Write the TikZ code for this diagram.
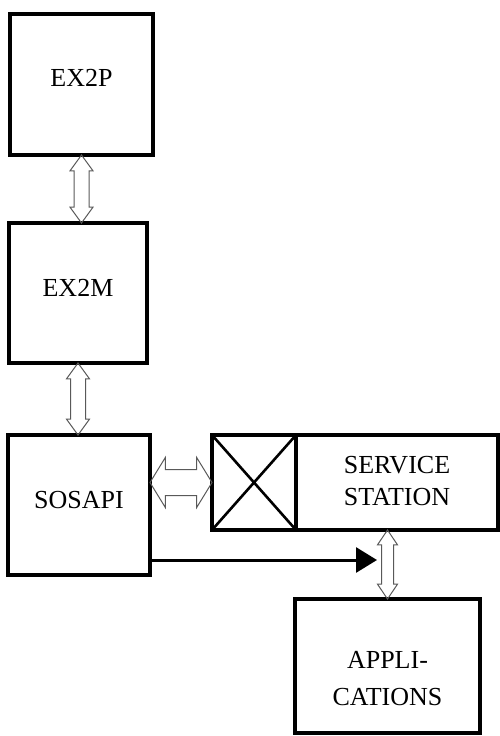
\documentclass[tikz,border=0pt]{standalone}
\usepackage{fontspec}
\setmainfont{Liberation Serif}
\usetikzlibrary{arrows.meta,shapes.arrows,calc}

\newcommand\twoway[3][]{%
  \path let \p1=($(#3)-(#2)$), \n1={veclen(\x1,\y1)} in
    (#2) -- node[twoway, sloped, minimum height=\n1, #1] {} (#3);}

\begin{document}
\begin{tikzpicture}[x=1pt, y=-1pt,
   box/.style={draw, line width=3.2pt, inner sep=0pt, outer sep=0pt},
   lbl/.style={font=\fontsize{26}{32}\selectfont, align=center},
   twoway/.style={double arrow, draw=black!65, line width=1pt, inner xsep=0pt, inner ysep=7pt,
      minimum width=0pt, double arrow head extend=4pt, double arrow tip angle=72}]
   \useasboundingbox (0,0) rectangle (499,736);
   \node[box, minimum width=143, minimum height=141, label={[lbl, yshift=6.5pt]center:EX2P}] (ex2p) at (81.5,84.5) {};
   \node[box, minimum width=138, minimum height=140, label={[lbl, yshift=5pt]center:EX2M}] (ex2m) at (78,293) {};
   \node[box, minimum width=142, minimum height=140, label={[lbl, yshift=5pt]center:SOSAPI}] (sosapi) at (79,505) {};
   \node[box, minimum width=84, minimum height=95] (gate) at (254,482.5) {};
   \node[box, minimum width=202, minimum height=95, anchor=west, label={[lbl, yshift=1.5pt]center:SERVICE\\STATION}] (station) at (gate.east) {};
   \node[box, minimum width=185, minimum height=134, label={[lbl, font=\fontsize{26}{37}\selectfont, yshift=-12.5pt]center:APPLI-\\CATIONS}] (apps) at (387.5,666) {};
   \draw[line width=2.6pt] (gate.north west) -- (gate.south east) (gate.south west) -- (gate.north east);
   \coordinate (m1) at (ex2p.south |- ex2m.north);
   \coordinate (m2) at (ex2m.south |- sosapi.north);
   \coordinate (m3) at (sosapi.east |- gate.west);
   \coordinate (m4) at (apps.north |- station.south);
   \coordinate (hit) at (377,560);
   \twoway{ex2p.south}{m1}
   \twoway{ex2m.south}{m2}
   \twoway[inner ysep=12.5pt, double arrow head extend=12pt, double arrow tip angle=117]{m3}{gate.west}
   \twoway[inner ysep=5.5pt, double arrow head extend=4pt, double arrow tip angle=68]{m4}{apps.north}
   \draw[line width=3pt, -{Triangle[length=21pt, width=25pt]}] (sosapi.east |- hit) -- (hit);
\end{tikzpicture}
\end{document}
